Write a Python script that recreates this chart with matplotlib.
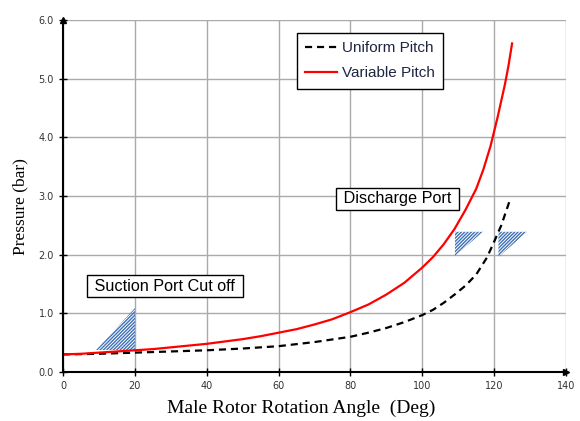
import numpy as np
import matplotlib.pyplot as plt
from matplotlib.patches import Polygon

# 数据
angle_var = [0, 5, 10, 15, 20, 25, 30, 35, 40, 45, 50, 55, 60, 65, 70, 75, 80, 85, 90, 95,
             100, 103, 106, 109, 112, 115, 117, 119, 121, 123, 124, 125]
p_var = [0.30, 0.31, 0.33, 0.35, 0.37, 0.39, 0.42, 0.45, 0.48, 0.52, 0.56, 0.61, 0.67, 0.73,
         0.81, 0.90, 1.02, 1.15, 1.32, 1.52, 1.78, 1.96, 2.18, 2.44, 2.76, 3.12, 3.45, 3.85,
         4.35, 4.90, 5.22, 5.60]
angle_uni = [0, 10, 20, 30, 40, 50, 60, 70, 80, 85, 90, 95, 100, 103, 106, 109, 112, 115,
             118, 120, 122, 124.5]
p_uni = [0.30, 0.31, 0.33, 0.35, 0.37, 0.40, 0.44, 0.51, 0.60, 0.67, 0.75, 0.85, 0.97, 1.06,
         1.18, 1.32, 1.47, 1.66, 1.95, 2.22, 2.50, 2.95]

# 阴影三角形 (角度, 压力)
tri_suction = [(9.2, 0.375), (20, 0.375), (20, 1.09)]
tri_dis1 = [(109.1, 2.39), (116.9, 2.39), (109.1, 1.98)]
tri_dis2 = [(121.2, 2.39), (129.2, 2.39), (121.2, 1.96)]

plt.rcParams["hatch.linewidth"] = 1.0

fig = plt.figure(figsize=(5.8, 4.21), dpi=100)
ax = fig.add_axes([0.1086, 0.1164, 0.8672, 0.8361])

ax.set_xlim(0, 140)
ax.set_ylim(0, 6)
ax.set_xticks(np.arange(0, 141, 20))
ax.set_yticks(np.arange(0, 6.1, 1.0))
ax.set_yticklabels([f"{v:.1f}" for v in np.arange(0, 6.1, 1.0)])
ax.grid(color="#aaaaaa", linewidth=1.0)
ax.set_axisbelow(True)

for s in ["top", "right"]:
    ax.spines[s].set_visible(False)
for s in ["left", "bottom"]:
    ax.spines[s].set_linewidth(1.5)
ax.tick_params(direction="inout", length=6, width=1, labelsize=7, labelcolor="#333333")
ax.plot(0, 1, "^k", ms=5, transform=ax.transAxes, clip_on=False)
ax.plot(1, 0, ">k", ms=5, transform=ax.transAxes, clip_on=False)

for tri in [tri_suction, tri_dis1, tri_dis2]:
    ax.add_patch(Polygon(tri, closed=True, fill=False, hatch="//////////",
                         edgecolor="#3f72b8", linewidth=0))

ax.plot(angle_uni, p_uni, color="black", linestyle=(0, (3.2, 2.2)), linewidth=1.6,
        label="Uniform Pitch")
ax.plot(angle_var, p_var, "-", color="#ff0000", linewidth=1.6, label="Variable Pitch")

leg = ax.legend(loc="upper left", bbox_to_anchor=(0.4652, 0.963), borderaxespad=0,
                prop={"family": "Liberation Sans", "size": 11},
                frameon=True, fancybox=False, edgecolor="black", handlelength=2.1,
                handletextpad=0.3, labelspacing=0.72, borderpad=0.55, framealpha=1)
leg.get_frame().set_linewidth(1)
for t in leg.get_texts():
    t.set_color("#1f2540")

box = dict(boxstyle="square,pad=0.2", facecolor="white", edgecolor="black", linewidth=1)
ax.text(7.6, 1.465, " Suction Port Cut off ", fontsize=11.7, family="Liberation Sans",
        va="center", bbox=box)
ax.text(76.8, 2.95, " Discharge Port ", fontsize=11.7, family="Liberation Sans",
        va="center", bbox=box)

fig.text(301 / 580, 1 - 408 / 421, "Male Rotor Rotation Angle  (Deg)", family="Liberation Serif",
         fontsize=14, ha="center", va="center")
fig.text(20 / 580, 1 - 207 / 421, "Pressure (bar)", family="Liberation Serif",
         fontsize=12.5, ha="center", va="center", rotation=90)

fig.savefig("out.png", dpi=100)
